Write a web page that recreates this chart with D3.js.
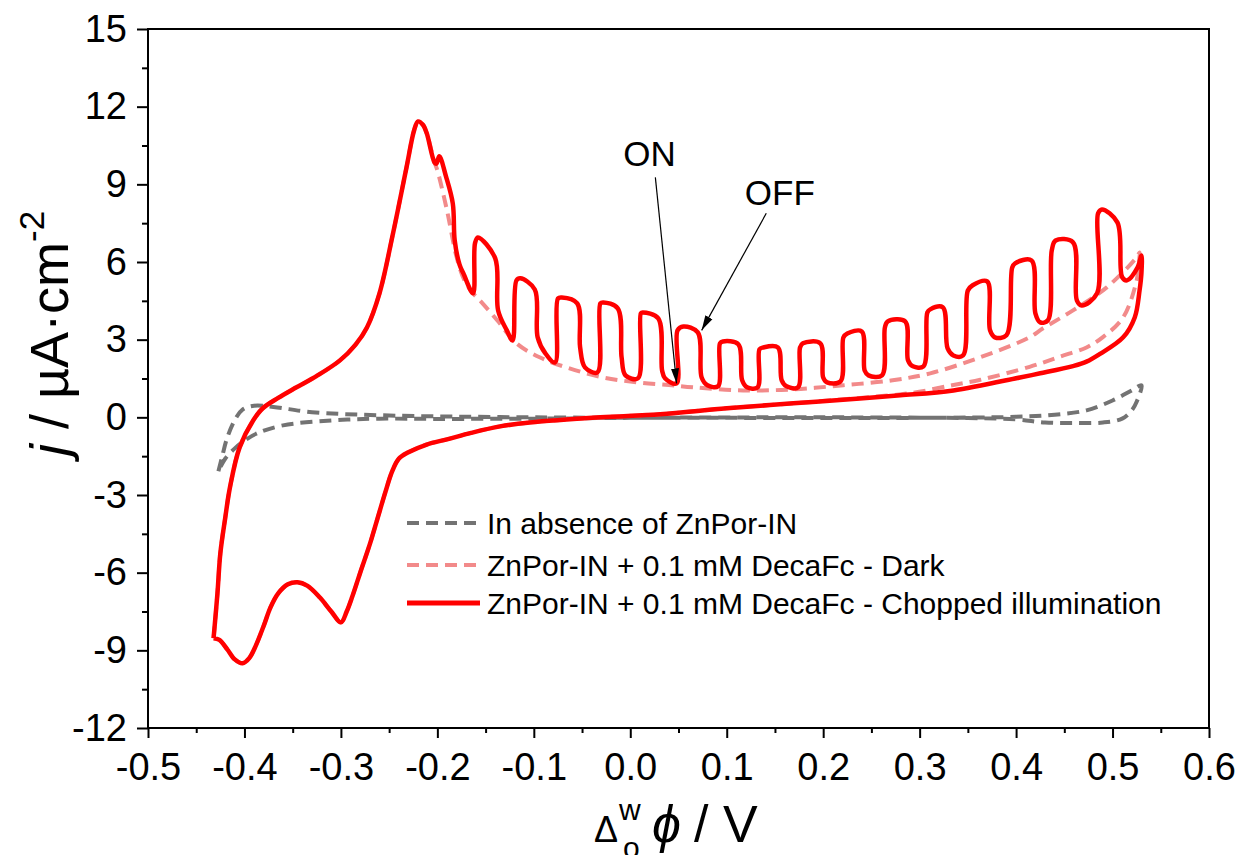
<!DOCTYPE html>
<html>
<head>
<meta charset="utf-8">
<script src="https://d3js.org/d3.v7.min.js"></script>
<style>
  body { margin: 0; background: white; font-family: "Liberation Sans", Arial, sans-serif; }
  svg text { fill: black; }
</style>
</head>
<body>
<svg id="cv" width="1241" height="855"></svg>
<script>
// ---- data (potential in V, current density in uA/cm2) ----
const xTicks = [-0.5, -0.4, -0.3, -0.2, -0.1, 0.0, 0.1, 0.2, 0.3, 0.4, 0.5, 0.6];
const xMinor = [-0.45, -0.35, -0.25, -0.15, -0.05, 0.05, 0.15, 0.25, 0.35, 0.45, 0.55];
const yTicks = [-12, -9, -6, -3, 0, 3, 6, 9, 12, 15];
const yMinor = [-10.5, -7.5, -4.5, -1.5, 1.5, 4.5, 7.5, 10.5, 13.5];

const seriesNames = [
  "In absence of ZnPor-IN",
  "ZnPor-IN + 0.1 mM DecaFc - Dark",
  "ZnPor-IN + 0.1 mM DecaFc - Chopped illumination"
];

// blank (no porphyrin)
const blank = [
  [-0.427, -2.08], [-0.423, -1.5], [-0.418, -0.8], [-0.41, -0.1], [-0.402, 0.3], [-0.39, 0.45],
  [-0.37, 0.40], [-0.33, 0.2], [-0.26, 0.08], [-0.1, 0.0], [0.1, -0.02], [0.3, -0.02], [0.4, 0.02],
  [0.44, 0.1], [0.473, 0.27], [0.50, 0.65], [0.52, 1.04], [0.53, 1.24],
  [0.525, 0.6], [0.52, 0.27], [0.51, -0.05], [0.49, -0.2], [0.46, -0.22], [0.43, -0.2], [0.40, -0.08],
  [0.35, -0.03], [0.2, 0.0], [0.0, -0.02], [-0.1, -0.05], [-0.2, -0.06], [-0.26, -0.05], [-0.31, -0.12],
  [-0.36, -0.31], [-0.387, -0.62], [-0.40, -0.9], [-0.41, -1.2], [-0.42, -1.6], [-0.427, -2.08]
];

// dark scan
const dark = [
  [-0.432, -8.53], [-0.428, -6.8], [-0.425, -5.25], [-0.420, -3.9], [-0.415, -2.70], [-0.405, -1.16],
  [-0.391, -0.12], [-0.381, 0.35], [-0.365, 0.75], [-0.346, 1.16], [-0.325, 1.6], [-0.301, 2.20],
  [-0.285, 2.8], [-0.273, 3.47], [-0.260, 4.79], [-0.246, 7.10], [-0.232, 9.65], [-0.224, 11.1],
  [-0.220, 11.43], [-0.215, 11.3], [-0.211, 10.97], [-0.203, 9.85], [-0.200, 9.54], [-0.190, 7.99],
  [-0.180, 6.18], [-0.172, 5.3], [-0.163, 4.79], [-0.156, 4.52], [-0.138, 3.75], [-0.118, 2.86],
  [-0.094, 2.32], [-0.063, 1.89], [-0.028, 1.54], [0.007, 1.35], [0.04, 1.25], [0.065, 1.16],
  [0.117, 1.04], [0.169, 1.08], [0.221, 1.24], [0.272, 1.43], [0.311, 1.70], [0.363, 2.32],
  [0.414, 3.09], [0.428, 3.44], [0.459, 4.13], [0.494, 5.02], [0.525, 6.18], [0.528, 6.37],
  [0.527, 5.9], [0.525, 5.29], [0.511, 3.86], [0.49, 3.1], [0.473, 2.7], [0.446, 2.35],
  [0.414, 1.95], [0.363, 1.45], [0.335, 1.25], [0.293, 0.95], [0.238, 0.75], [0.169, 0.54],
  [0.100, 0.35], [0.031, 0.12], [-0.031, 0.0], [-0.104, -0.2], [-0.135, -0.35], [-0.165, -0.6],
  [-0.19, -0.85], [-0.211, -1.05], [-0.23, -1.35], [-0.240, -1.6], [-0.247, -2.1], [-0.254, -2.9],
  [-0.262, -3.9], [-0.270, -4.9], [-0.280, -6.0], [-0.288, -6.9], [-0.294, -7.5],
  [-0.300, -7.92], [-0.31, -7.5], [-0.322, -6.95], [-0.335, -6.5], [-0.345, -6.37], [-0.355, -6.45],
  [-0.365, -6.8], [-0.373, -7.34], [-0.380, -8.05], [-0.388, -8.8], [-0.395, -9.3], [-0.402, -9.5],
  [-0.410, -9.35], [-0.418, -8.95], [-0.426, -8.6], [-0.432, -8.53]
];

// chopped illumination scan
const chopped = [
  [-0.432, -8.53], [-0.428, -6.8], [-0.425, -5.25], [-0.420, -3.9], [-0.415, -2.70], [-0.405, -1.16],
  [-0.391, -0.12], [-0.381, 0.35], [-0.365, 0.75], [-0.346, 1.16], [-0.325, 1.6], [-0.301, 2.20],
  [-0.285, 2.8], [-0.273, 3.47], [-0.260, 4.79], [-0.246, 7.10], [-0.232, 9.65], [-0.224, 11.1],
  [-0.220, 11.43], [-0.215, 11.3], [-0.211, 10.97], [-0.203, 9.85], [-0.201, 9.80], [-0.198, 10.08],
  [-0.191, 9.3], [-0.184, 8.26], [-0.182, 6.83], [-0.177, 5.9], [-0.173, 5.56], [-0.163, 4.79],
  [-0.161, 6.72], [-0.158, 6.95], [-0.140, 6.14], [-0.137, 4.13], [-0.128, 3.36], [-0.122, 2.97],
  [-0.118, 5.29], [-0.114, 5.37], [-0.099, 4.94], [-0.096, 3.09], [-0.088, 2.47], [-0.078, 2.12],
  [-0.075, 4.59], [-0.071, 4.63], [-0.055, 4.40], [-0.052, 2.70], [-0.047, 1.93], [-0.034, 1.74],
  [-0.031, 4.40], [-0.028, 4.44], [-0.013, 4.21], [-0.009, 2.32], [-0.005, 1.62], [0.008, 1.51],
  [0.011, 4.02], [0.013, 4.05], [0.029, 3.82], [0.033, 1.81], [0.036, 1.51], [0.048, 1.31],
  [0.049, 3.36], [0.055, 3.51], [0.070, 3.28], [0.074, 1.54], [0.080, 1.24], [0.091, 1.20],
  [0.093, 2.86], [0.096, 2.93], [0.112, 2.82], [0.116, 1.43], [0.121, 1.16], [0.132, 1.16],
  [0.134, 2.63], [0.138, 2.70], [0.153, 2.70], [0.157, 1.43], [0.162, 1.20], [0.174, 1.16],
  [0.176, 2.70], [0.179, 2.86], [0.197, 2.86], [0.200, 1.54], [0.204, 1.35], [0.218, 1.39],
  [0.221, 3.09], [0.225, 3.24], [0.240, 3.32], [0.243, 1.81], [0.247, 1.62], [0.261, 1.62],
  [0.264, 3.47], [0.267, 3.71], [0.285, 3.71], [0.288, 2.20], [0.293, 1.97], [0.304, 1.97],
  [0.308, 4.05], [0.311, 4.17], [0.324, 4.25], [0.329, 2.66], [0.335, 2.39], [0.345, 2.39],
  [0.350, 4.90], [0.355, 5.10], [0.370, 5.25], [0.373, 3.36], [0.378, 3.09], [0.390, 3.17],
  [0.396, 5.79], [0.399, 5.95], [0.416, 6.06], [0.420, 4.02], [0.425, 3.67], [0.433, 3.75],
  [0.437, 6.45], [0.441, 6.83], [0.459, 6.76], [0.463, 4.52], [0.468, 4.32], [0.484, 4.79],
  [0.485, 7.88], [0.489, 8.03], [0.505, 7.53], [0.510, 5.41], [0.515, 5.29], [0.526, 5.79],
  [0.530, 6.25],
  [0.530, 5.6], [0.528, 4.90], [0.523, 3.86], [0.511, 3.09], [0.487, 2.45], [0.473, 2.15],
  [0.459, 1.98], [0.425, 1.70], [0.404, 1.54], [0.335, 1.04], [0.280, 0.85], [0.238, 0.73],
  [0.169, 0.54], [0.100, 0.35], [0.031, 0.12], [-0.031, 0.0], [-0.104, -0.2], [-0.135, -0.35],
  [-0.165, -0.6], [-0.19, -0.85], [-0.211, -1.05], [-0.23, -1.35], [-0.240, -1.6], [-0.247, -2.1],
  [-0.254, -2.9], [-0.262, -3.9], [-0.270, -4.9], [-0.280, -6.0], [-0.288, -6.9], [-0.294, -7.5],
  [-0.300, -7.92], [-0.31, -7.5], [-0.322, -6.95], [-0.335, -6.5], [-0.345, -6.37],
  [-0.355, -6.45], [-0.365, -6.8], [-0.373, -7.34], [-0.380, -8.05], [-0.388, -8.8], [-0.395, -9.3],
  [-0.402, -9.5], [-0.410, -9.35], [-0.418, -8.95], [-0.426, -8.6], [-0.432, -8.53]
];

// ON / OFF arrows: [label, text at, arrow tail, arrow tip]
const notes = [
  ["ON",  [0.020, 9.7], [0.026, 9.27], [0.048, 1.31]],
  ["OFF", [0.155, 8.2], [0.141, 7.88], [0.074, 3.36]]
];

const svg = d3.select("#cv");
const x = d3.scaleLinear().domain([-0.5, 0.6]).range([148, 1209]);
const y = d3.scaleLinear().domain([-12, 15]).range([728, 29]);

const colors = ["#737373", "#f28a8a", "#ff0000"];

// axes
svg.append("g").attr("transform", "translate(0,728)")
  .call(d3.axisBottom(x).tickValues(xMinor).tickSize(5).tickFormat(""))
  .call(g => g.select(".domain").remove());
svg.append("g").attr("transform", "translate(0,728)")
  .call(d3.axisBottom(x).tickValues(xTicks).tickSizeInner(10).tickSizeOuter(0).tickPadding(15)
    .tickFormat(d => d.toFixed(1)))
  .call(g => g.select(".domain").remove());
svg.append("g").attr("transform", "translate(148,0)")
  .call(d3.axisLeft(y).tickValues(yMinor).tickSize(6).tickFormat(""))
  .call(g => g.select(".domain").remove());
svg.append("g").attr("transform", "translate(148,0)")
  .call(d3.axisLeft(y).tickValues(yTicks).tickSizeInner(11).tickSizeOuter(0).tickPadding(10)
    .tickFormat(d => String(d)))
  .call(g => g.select(".domain").remove());

svg.selectAll(".tick line").attr("stroke", "black").attr("stroke-width", 2);
svg.selectAll(".tick text")
  .attr("font-family", "Liberation Sans, Arial, sans-serif")
  .attr("font-size", 38);

// frame
svg.append("rect")
  .attr("x", x(-0.5)).attr("y", y(15))
  .attr("width", x(0.6) - x(-0.5)).attr("height", y(-12) - y(15))
  .attr("fill", "none").attr("stroke", "black").attr("stroke-width", 2);

// curves
const line = d3.line().x(d => x(d[0])).y(d => y(d[1])).curve(d3.curveCatmullRom.alpha(0.5));
const plot = svg.append("g");
plot.append("path").datum(blank).attr("d", line)
  .attr("fill", "none").attr("stroke", colors[0]).attr("stroke-width", 4)
  .attr("stroke-dasharray", "12,7");
plot.append("path").datum(dark).attr("d", line)
  .attr("fill", "none").attr("stroke", colors[1]).attr("stroke-width", 4)
  .attr("stroke-dasharray", "12,7");
plot.append("path").datum(chopped).attr("d", line)
  .attr("fill", "none").attr("stroke", colors[2]).attr("stroke-width", 4.5)
  .attr("stroke-linejoin", "round");

// legend
const legend = svg.append("g");
const rowsY = [523, 565, 603];
seriesNames.forEach((name, i) => {
  legend.append("line")
    .attr("x1", 407).attr("x2", 480).attr("y1", rowsY[i]).attr("y2", rowsY[i])
    .attr("stroke", colors[i]).attr("stroke-width", i == 2 ? 5 : 4)
    .attr("stroke-dasharray", i == 2 ? null : "12,7");
  legend.append("text")
    .attr("x", 487).attr("y", rowsY[i] + 11)
    .attr("font-size", 30)
    .text(name);
});

// arrows
svg.append("defs").append("marker")
  .attr("id", "head").attr("markerUnits", "userSpaceOnUse")
  .attr("markerWidth", 16).attr("markerHeight", 10)
  .attr("refX", 15).attr("refY", 5).attr("orient", "auto")
  .append("path").attr("d", "M0,1L15,5L0,9Z").attr("fill", "black");

notes.forEach(n => {
  svg.append("text")
    .attr("x", x(n[1][0])).attr("y", y(n[1][1]))
    .attr("text-anchor", "middle").attr("font-size", 35)
    .text(n[0]);
  svg.append("line")
    .attr("x1", x(n[2][0])).attr("y1", y(n[2][1]))
    .attr("x2", x(n[3][0])).attr("y2", y(n[3][1]))
    .attr("stroke", "black").attr("stroke-width", 1.2)
    .attr("marker-end", "url(#head)");
});

// axis titles
const yl = svg.append("text")
  .attr("transform", "translate(68,456) rotate(-90)")
  .attr("font-size", 54);
yl.append("tspan").attr("font-style", "italic").text("j");
yl.append("tspan").text(" / \u00b5A\u00b7cm");
yl.append("tspan").attr("font-size", 35).attr("dy", -24).text("-2");

const xl = svg.append("g");
xl.append("text").attr("x", 594).attr("y", 842).attr("font-size", 36).text("\u0394");
xl.append("text").attr("x", 619).attr("y", 820).attr("font-size", 30).text("w");
xl.append("text").attr("x", 623).attr("y", 858).attr("font-size", 30).text("o");
xl.append("text").attr("x", 652).attr("y", 842).attr("font-size", 52)
  .attr("font-style", "italic").text("\u03d5");
xl.append("text").attr("x", 694).attr("y", 842).attr("font-size", 52).text("/ V");
</script>
</body>
</html>
